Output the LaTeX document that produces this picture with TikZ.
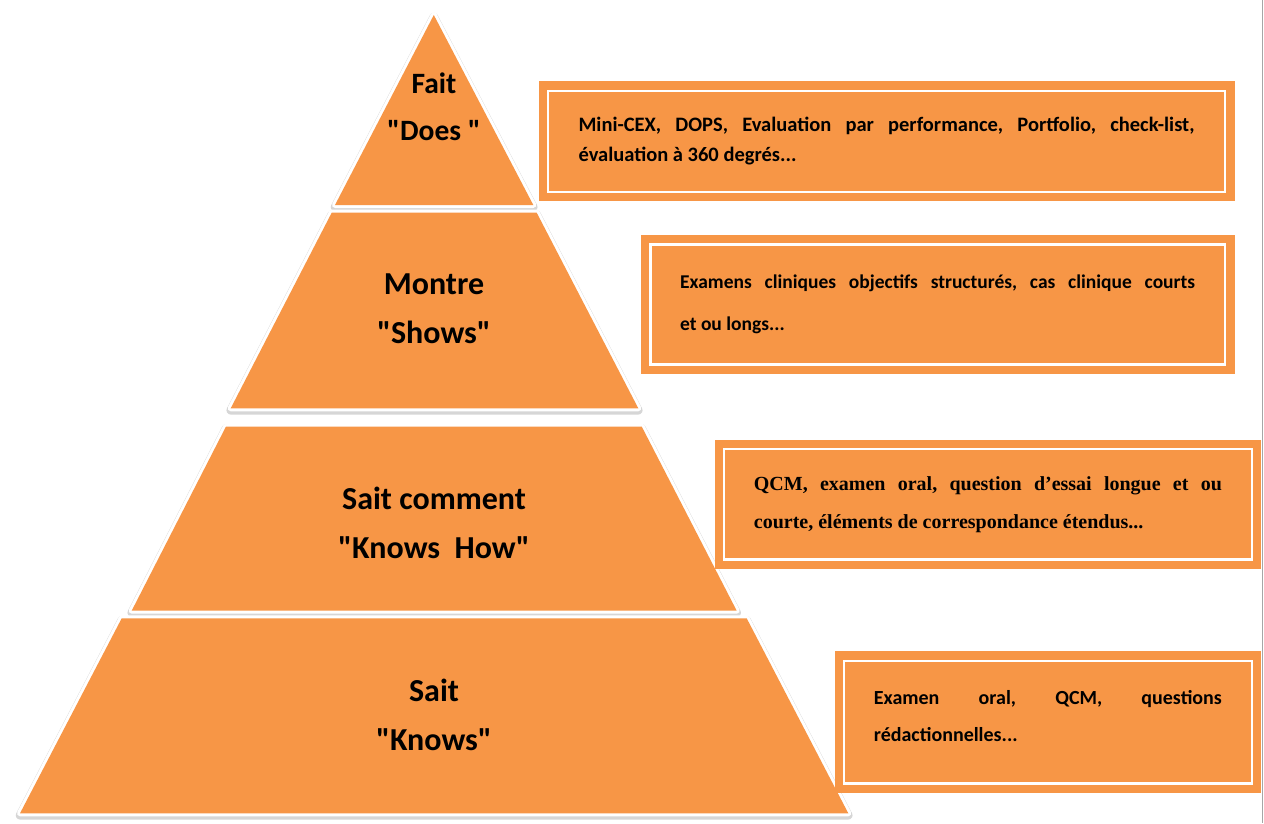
\documentclass[tikz,border=0pt]{standalone}
\usepackage{fontspec}
\setmainfont{Carlito}[Ligatures=TeXOff]
\newfontfamily\serifbox{Liberation Serif}
\definecolor{pyr}{HTML}{F79646}
\frenchspacing
\tikzset{
  layershade/.style={draw=black, opacity=0.16, line width=8.5pt, line join=round, yshift=-2pt},
  layerrim/.style={draw=white, line width=6pt, line join=round},
  layerfill/.style={fill=pyr},
  box/.style={draw=white, line width=2.5pt, fill=pyr,
    preaction={draw=pyr, line width=19pt, line join=miter},
    inner sep=0pt, anchor=north west},
  lbl/.style={font=\bfseries\fontsize{32}{49}\selectfont, align=center, text=black},
}
\newcommand\pyrlayer[1]{%
  \draw[layershade] #1;
  \draw[layerrim] #1;
  \fill[layerfill] #1;
}
\begin{document}
\frenchspacing
\begin{tikzpicture}[x=1pt,y=-1pt]
\useasboundingbox (0,0) rectangle (1264,823);
\fill[white] (0,0) rectangle (1264,823);
% pyramid layers
\pyrlayer{(433.8,15) -- (533.3,205) -- (335,205) -- cycle}
\pyrlayer{(331.7,212.7) -- (536.7,212.7) -- (638.3,408.3) -- (230.7,408.3) -- cycle}
\pyrlayer{(226,426.5) -- (641.7,426.5) -- (736.7,610.7) -- (131.7,610.7) -- cycle}
\pyrlayer{(121.7,618.3) -- (746.7,618.3) -- (848.3,813.3) -- (20,813.3) -- cycle}
% layer labels
\node[lbl, font=\bfseries\fontsize{29.5}{47}\selectfont] (l1) at (434,107) {Fait\\"Does "};
\node[lbl] (l2) at (434,309) {Montre\\"Shows"};
\node[lbl] (l3) at (434,523) {Sait comment\\"Knows~~How"};
\node[lbl] (l4) at (434,715) {Sait\\"Knows"};
% boxes
\node[box, minimum width=677pt, minimum height=101pt] (b1) at (546.8,89.5)
  {\parbox{616pt}{\frenchspacing\bfseries\fontsize{20.5}{30}\selectfont Mini-CEX, DOPS, Evaluation par performance, Portfolio, check-list,\linebreak évaluation à 360 degrés...}};
\node[box, minimum width=574.8pt, minimum height=120pt] (b2) at (649,243)
  {\parbox{515pt}{\frenchspacing\bfseries\fontsize{19.5}{42}\selectfont Examens cliniques objectifs structurés, cas clinique courts\linebreak et ou longs...}};
\node[box, minimum width=527.7pt, minimum height=110.5pt] (b3) at (722.8,447.8)
  {\parbox{468pt}{\frenchspacing\serifbox\bfseries\fontsize{20}{38}\selectfont QCM, examen oral, question d’essai longue et ou\linebreak courte, éléments de correspondance étendus...}};
\node[box, minimum width=407.7pt, minimum height=122.7pt] (b4) at (842.8,659.5)
  {\parbox{348pt}{\frenchspacing\bfseries\fontsize{20}{37}\selectfont Examen oral, QCM, questions\linebreak rédactionnelles...\par\vspace{12pt}}};
% right page edge
\draw[gray!70, line width=1pt] (1262.5,0) -- (1262.5,823);
\end{tikzpicture}
\end{document}
